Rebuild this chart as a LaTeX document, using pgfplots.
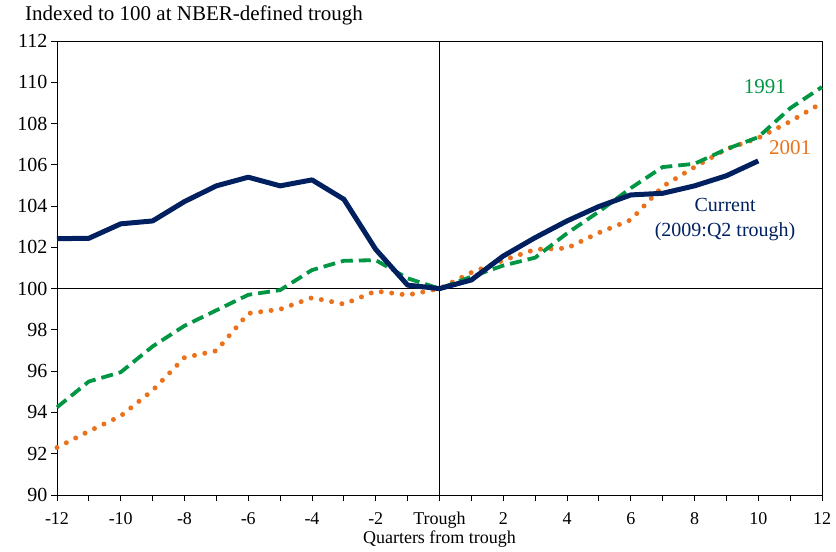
\documentclass[border=0pt]{standalone}
\usepackage{pgfplots}
\pgfplotsset{compat=1.18}
\usepackage{fontspec}
\setmainfont{Liberation Serif}
\definecolor{navy}{RGB}{0,32,96}
\definecolor{grn}{RGB}{0,150,68}
\definecolor{org}{RGB}{234,114,28}
\begin{document}
\begin{tikzpicture}
\useasboundingbox (-57bp,-57bp) rectangle (779bp,495bp);
\begin{axis}[
  at={(0,0)}, anchor=south west,
  scale only axis, width=765bp, height=454bp,
  xmin=-12, xmax=12, ymin=90, ymax=112,
  axis line style={black, line width=0.9bp},
  xtick={-12,-10,...,12},
  minor xtick={-11,-9,...,11},
  xticklabels={-12,-10,-8,-6,-4,-2,Trough,2,4,6,8,10,12},
  ytick={90,92,...,112},
  tick align=outside,
  xtick pos=bottom, ytick pos=left,
  major tick length=6bp, minor tick length=6bp,
  tick style={black, line width=0.9bp},
  /pgf/number format/assume math mode=true,
  xticklabel style={font=\fontsize{18bp}{20bp}\selectfont, text height=13bp, text depth=4bp, anchor=north, yshift=-7bp},
  yticklabel style={font=\fontsize{20bp}{22bp}\selectfont},
  clip=false,
]
\draw[black, line width=0.9bp] (axis cs:0,90) -- (axis cs:0,112);
\draw[black, line width=0.9bp] (axis cs:-12,100) -- (axis cs:12,100);
\addplot[org, line width=5bp, line cap=round, dash pattern=on 0pt off 10.5bp] coordinates {
(-12,92.3) (-11,93.09) (-10,93.83) (-9,95.07) (-8,96.66) (-7,96.99) (-6,98.8) (-5,99.0) (-4,99.56) (-3,99.25) (-2,99.88) (-1,99.69) (0,100) (1,100.78) (2,101.37) (3,101.9) (4,101.96) (5,102.71) (6,103.33) (7,104.95) (8,105.89) (9,106.76) (10,107.3) (11,108.1) (12,109.0)};
\addplot[grn, line width=3.8bp, dash pattern=on 12bp off 6bp] coordinates {
(-12,94.25) (-11,95.5) (-10,95.95) (-9,97.2) (-8,98.2) (-7,98.95) (-6,99.7) (-5,99.93) (-4,100.9) (-3,101.35) (-2,101.38) (-1,100.5) (0,100) (1,100.58) (2,101.12) (3,101.5) (4,102.68) (5,103.73) (6,104.87) (7,105.89) (8,106.05) (9,106.76) (10,107.34) (11,108.74) (12,109.77)};
\addplot[navy, line width=5bp, line join=round] coordinates {
(-12,102.42) (-11,102.44) (-10,103.14) (-9,103.28) (-8,104.22) (-7,104.98) (-6,105.40) (-5,104.98) (-4,105.27) (-3,104.33) (-2,101.90) (-1,100.17) (0,100) (1,100.42) (2,101.58) (3,102.47) (4,103.28) (5,103.98) (6,104.54) (7,104.62) (8,104.98) (9,105.47) (10,106.19)};
\node[grn, font=\fontsize{21bp}{24bp}\selectfont] at (axis cs:10.21,109.79) {1991};
\node[org, font=\fontsize{21bp}{24bp}\selectfont] at (axis cs:11.0,106.82) {2001};
\node[navy, align=center, font=\fontsize{20bp}{25bp}\selectfont] at (axis cs:8.96,103.35) {Current\\(2009:Q2 trough)};
\node[anchor=base, font=\fontsize{18bp}{20bp}\selectfont] at (axis cs:0,90) [yshift=-48bp] {Quarters from trough};
\end{axis}
\node[anchor=base west, font=\fontsize{21bp}{24bp}\selectfont] at (-35.3bp,474bp) {Indexed to 100 at NBER-defined trough};
\end{tikzpicture}
\end{document}
